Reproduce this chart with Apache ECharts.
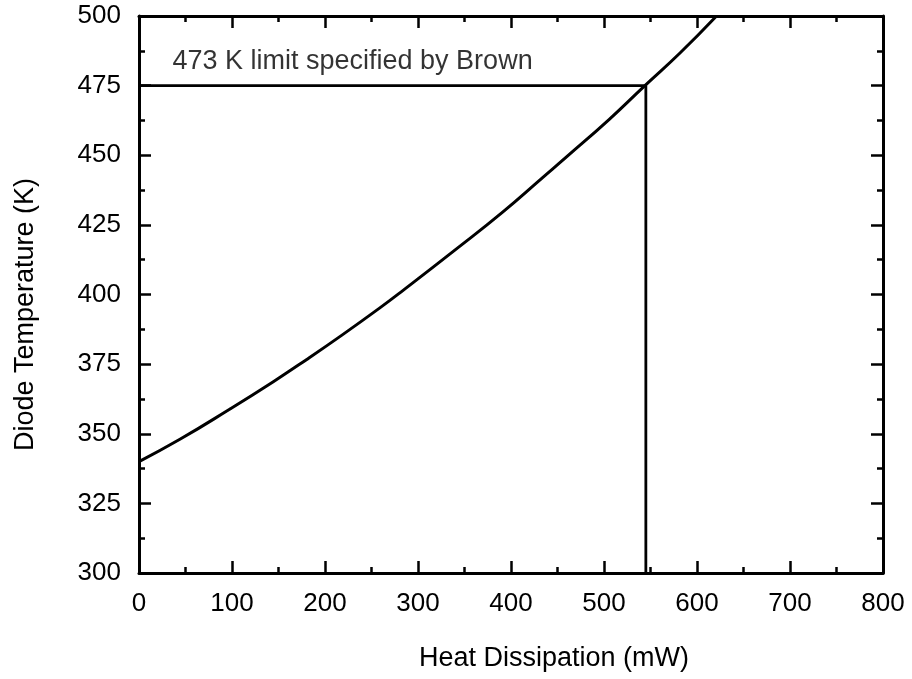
<!DOCTYPE html>
<html>
<head>
<meta charset="utf-8">
<script src="https://cdn.jsdelivr.net/npm/echarts@6/dist/echarts.min.js"></script>
<style>
  html, body { margin: 0; padding: 0; background: #ffffff; }
  #chart { width: 912px; height: 679px; }
</style>
</head>
<body>
<div id="chart"></div>
<script>
// ---- data ----
var heatMW = [0, 44, 97, 144, 180, 219, 259, 284, 341, 391, 434, 460, 506, 544, 582, 621];
var tempK  = [340, 348, 358.7, 368.6, 376.6, 385.6, 395.2, 401.5, 416.3, 429.6, 442, 449.5, 463, 475, 486.8, 500];

var limitK = 475;          // horizontal limit line (drawn at the 475 tick)
var limitMW = 545;         // where the curve crosses the limit
var limitText = '473 K limit specified by Brown';
var limitTextPos = [36, 483.5];

var xTitle = 'Heat Dissipation (mW)';
var yTitle = 'Diode Temperature (K)';

var xMin = 0, xMax = 800, xStep = 100;
var yMin = 300, yMax = 500, yStep = 25;

// ---- build ----
var curve = heatMW.map(function (x, i) { return [x, tempK[i]]; });
var limitPath = [[xMin, limitK], [limitMW, limitK], [limitMW, yMin]];

var FONT = 'Liberation Sans, Arial, Helvetica, sans-serif';
var black = '#000000';

function axisCommon(showLabel) {
  return {
    axisLine: { show: true, onZero: false, lineStyle: { color: black, width: 3 } },
    axisTick: { show: true, inside: true, length: 12, lineStyle: { color: black, width: 2.5 } },
    minorTick: { show: true, splitNumber: 2, length: 6, lineStyle: { color: black, width: 2.5 } },
    splitLine: { show: false },
    minorSplitLine: { show: false },
    axisLabel: { show: showLabel, color: black, fontSize: 26, fontFamily: FONT }
  };
}

var xBottom = Object.assign({ type: 'value', min: xMin, max: xMax, interval: xStep, position: 'bottom',
  name: xTitle, nameLocation: 'middle', nameGap: 72,
  nameTextStyle: { color: black, fontSize: 27, fontFamily: FONT, padding: [0, 0, 0, 86] } }, axisCommon(true));
xBottom.axisLabel.margin = 18;
var xTop = Object.assign({ type: 'value', min: xMin, max: xMax, interval: xStep, position: 'top' }, axisCommon(false));

var yLeft = Object.assign({ type: 'value', min: yMin, max: yMax, interval: yStep, position: 'left',
  name: yTitle, nameLocation: 'middle', nameGap: 100, nameRotate: 90,
  nameTextStyle: { color: black, fontSize: 27, fontFamily: FONT, padding: [0, 40, 0, 0] } }, axisCommon(true));
yLeft.axisLabel.margin = 18;
var yRight = Object.assign({ type: 'value', min: yMin, max: yMax, interval: yStep, position: 'right' }, axisCommon(false));

var chart = echarts.init(document.getElementById('chart'), null, { renderer: 'canvas' });
chart.setOption({
  backgroundColor: '#ffffff',
  animation: false,
  grid: { left: 139, right: 29, top: 16, bottom: 106, containLabel: false },
  xAxis: [xBottom, xTop],
  yAxis: [yLeft, yRight],
  series: [
    {
      type: 'line', xAxisIndex: 0, yAxisIndex: 0,
      data: curve, showSymbol: false, smooth: 0.5, clip: true,
      lineStyle: { color: black, width: 3 }
    },
    {
      type: 'line', xAxisIndex: 0, yAxisIndex: 0,
      data: limitPath, showSymbol: false, clip: true,
      lineStyle: { color: black, width: 2.8 }
    },
    {
      type: 'scatter', xAxisIndex: 0, yAxisIndex: 0,
      data: [limitTextPos], symbolSize: 0, silent: true,
      label: { show: true, position: 'right', distance: 0, formatter: limitText,
               color: black, fontSize: 27, fontFamily: FONT }
    }
  ]
});
</script>
</body>
</html>
